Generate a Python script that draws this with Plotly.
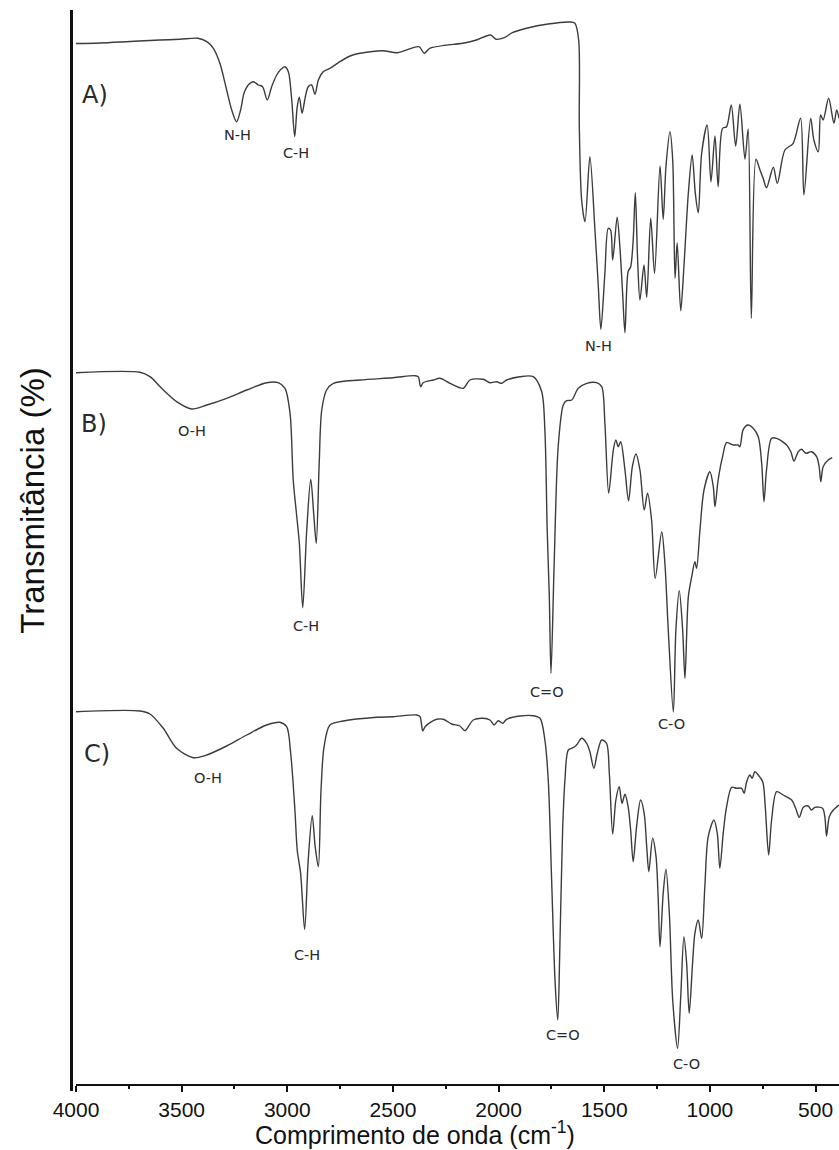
import plotly.graph_objects as go

# FTIR spectra: wavenumber (cm-1) and relative transmittance (a.u.) per sample
wn_a = [4000, 3886, 3744, 3602, 3508, 3423, 3381, 3350, 3319, 3287, 3263, 3240, 3221, 3205,
        3185, 3161, 3137, 3117, 3095, 3074, 3050, 3030, 3011, 2995, 2979, 2965, 2953, 2943,
        2930, 2916, 2901, 2885, 2869, 2853, 2830, 2798, 2751, 2703, 2656, 2547, 2479, 2377,
        2352, 2326, 2156, 2105, 2038, 2012, 1970, 1935, 1868, 1766, 1664, 1639, 1621, 1618,
        1607, 1591, 1568, 1544, 1528, 1516, 1497, 1481, 1470, 1460, 1439, 1426, 1413, 1402,
        1387, 1375, 1363, 1353, 1342, 1331, 1312, 1299, 1280, 1262, 1236, 1221, 1208, 1189,
        1176, 1165, 1155, 1138, 1123, 1102, 1084, 1069, 1055, 1039, 1013, 995, 976, 961, 940,
        921, 899, 878, 858, 834, 819, 804, 782, 763, 748, 732, 700, 681, 645, 606, 571, 555,
        523, 508, 487, 476, 464, 438, 413, 400, 389]
tr_a = [39.05, 39.1, 39.25, 39.4, 39.47, 39.57, 39.23, 38.57, 37.07, 34.4, 32.4, 31.23, 32.4,
        34.07, 34.9, 35.23, 34.9, 34.73, 33.4, 34.73, 35.9, 36.47, 36.73, 36.23, 33.4, 29.73,
        32.73, 33.67, 32.07, 33.57, 34.73, 34.9, 33.97, 35.4, 36.23, 36.57, 37.23, 37.8, 38.07,
        38.33, 38.13, 38.73, 38.07, 38.57, 39.13, 39.4, 39.9, 39.47, 39.67, 40.13, 40.57, 41.0,
        41.2, 41.07, 39.4, 30.73, 23.4, 21.23, 27.73, 20.4, 14.73, 10.47, 16.07, 20.57, 20.4,
        17.4, 21.67, 18.73, 14.07, 10.13, 16.23, 16.73, 19.4, 24.13, 17.4, 13.4, 16.9, 13.67,
        21.57, 16.07, 26.8, 21.47, 26.73, 30.23, 27.4, 15.57, 19.13, 12.33, 16.73, 24.07, 27.9,
        24.07, 22.13, 28.07, 30.9, 25.23, 29.8, 24.73, 30.57, 30.73, 32.9, 28.8, 32.97, 27.5,
        30.5, 11.57, 27.47, 26.4, 25.57, 24.63, 26.67, 25.07, 28.4, 29.07, 31.57, 23.9, 31.57,
        29.4, 28.23, 31.9, 31.4, 33.57, 31.07, 32.4, 31.57]

wn_b = [4000, 3697, 3650, 3587, 3524, 3453, 3381, 3287, 3192, 3098, 3043, 3011, 2987, 2972,
        2956, 2943, 2927, 2908, 2889, 2874, 2863, 2849, 2837, 2814, 2782, 2656, 2499, 2396,
        2380, 2369, 2357, 2309, 2278, 2230, 2167, 2136, 2073, 2041, 2009, 1986, 1962, 1899,
        1836, 1796, 1781, 1770, 1760, 1752, 1737, 1718, 1694, 1678, 1654, 1623, 1583, 1536,
        1512, 1497, 1479, 1457, 1445, 1434, 1422, 1402, 1385, 1367, 1350, 1331, 1311, 1295,
        1276, 1259, 1228, 1213, 1197, 1173, 1161, 1145, 1129, 1118, 1102, 1086, 1071, 1063,
        1047, 1028, 1000, 984, 976, 961, 940, 921, 890, 866, 858, 842, 819, 795, 771, 755, 744,
        732, 708, 684, 637, 617, 602, 582, 566, 546, 519, 495, 483, 475, 464, 440, 421]
tr_b = [36.13, 36.17, 35.73, 34.4, 33.23, 32.5, 32.9, 33.57, 34.4, 35.13, 35.13, 34.57, 32.07,
        25.4, 21.9, 19.07, 12.63, 20.4, 25.47, 21.73, 19.07, 27.07, 32.4, 34.4, 35.07, 35.4,
        35.63, 35.83, 35.73, 34.73, 35.13, 35.4, 35.57, 35.07, 34.57, 35.4, 35.47, 35.13, 35.23,
        35.07, 35.4, 35.73, 35.73, 34.23, 30.4, 20.4, 13.73, 6.07, 17.07, 28.73, 32.9, 33.33,
        33.4, 34.57, 35.07, 35.13, 34.73, 31.07, 24.07, 28.4, 29.4, 28.73, 29.23, 26.4, 23.33,
        26.73, 28.0, 26.4, 22.4, 24.07, 21.4, 15.57, 20.23, 17.07, 10.4, 2.2, 10.4, 14.33, 10.4,
        5.57, 13.73, 15.73, 17.23, 16.57, 20.4, 24.4, 26.23, 24.73, 22.73, 25.4, 27.73, 29.13,
        28.9, 28.9, 28.73, 30.47, 30.9, 30.57, 29.73, 27.07, 23.23, 26.4, 29.57, 29.57, 28.9,
        28.23, 27.3, 28.23, 28.47, 28.07, 28.23, 27.73, 26.73, 25.23, 26.73, 27.4, 27.63]

wn_c = [4000, 3697, 3650, 3587, 3524, 3445, 3390, 3287, 3192, 3098, 3035, 3003, 2984, 2964,
        2953, 2937, 2918, 2901, 2882, 2868, 2853, 2841, 2826, 2798, 2735, 2577, 2499, 2388,
        2372, 2359, 2348, 2325, 2293, 2262, 2222, 2183, 2159, 2120, 2073, 2041, 2021, 2002,
        1981, 1962, 1899, 1836, 1804, 1781, 1765, 1749, 1733, 1720, 1710, 1697, 1686, 1670,
        1647, 1631, 1607, 1583, 1568, 1549, 1533, 1512, 1489, 1476, 1460, 1445, 1429, 1416,
        1402, 1387, 1375, 1363, 1347, 1328, 1311, 1299, 1289, 1271, 1255, 1245, 1236, 1221,
        1208, 1192, 1176, 1153, 1138, 1123, 1110, 1098, 1082, 1071, 1055, 1039, 1024, 1008,
        981, 965, 953, 937, 921, 897, 874, 850, 838, 826, 811, 800, 787, 771, 750, 738, 722,
        708, 684, 653, 613, 594, 577, 558, 535, 519, 503, 467, 456, 448, 435, 416, 389]
tr_c = [37.23, 37.3, 37.0, 35.57, 33.57, 32.63, 32.83, 33.8, 34.9, 35.9, 36.17, 35.73, 33.07,
        27.4, 23.4, 21.07, 15.47, 22.4, 26.83, 23.73, 21.73, 29.07, 33.73, 35.9, 36.3, 36.67,
        36.73, 36.9, 36.73, 35.3, 35.73, 36.13, 36.47, 36.47, 36.0, 35.8, 35.33, 36.4, 36.57,
        36.4, 35.9, 36.33, 36.07, 36.47, 36.8, 36.83, 36.57, 34.4, 30.4, 20.4, 10.4, 6.4, 13.73,
        25.4, 30.4, 33.4, 33.63, 33.9, 34.57, 34.07, 33.23, 31.57, 33.07, 34.4, 34.07, 31.07,
        25.0, 28.4, 29.73, 28.07, 28.97, 27.73, 25.4, 22.23, 25.73, 28.4, 27.07, 23.73, 21.23,
        24.57, 22.73, 18.73, 13.73, 19.07, 21.47, 17.07, 8.4, 3.57, 8.73, 14.73, 12.07, 7.07,
        12.07, 15.07, 16.4, 14.57, 19.73, 24.73, 26.4, 25.07, 21.57, 25.07, 27.73, 29.67, 29.57,
        29.57, 29.07, 30.23, 30.9, 30.57, 31.23, 30.9, 30.23, 27.73, 22.9, 26.4, 29.23, 28.9,
        28.4, 27.57, 26.67, 27.67, 27.8, 27.4, 27.67, 27.57, 26.73, 24.8, 26.73, 27.4, 27.9]

# vertical stacking of the three spectra
spectra = [("A", wn_a, tr_a, 65.0), ("B", wn_b, tr_b, 35.0), ("C", wn_c, tr_c, 0.0)]

# sample tags and band assignments (wavenumber, stacked height, text)
sample_tags = [(3910, 98.9, "A)"), (3915, 66.0, "B)"), (3901, 33.05, "C)")]
band_labels = [
    (3238, 94.9, "N-H"), (2959, 93.15, "C-H"), (1525, 73.8, "N-H"),
    (3453, 65.35, "O-H"), (2912, 45.8, "C-H"), (1769, 39.2, "C=O"), (1182, 36.0, "C-O"),
    (3375, 30.65, "O-H"), (2909, 12.9, "C-H"), (1693, 4.9, "C=O"), (1109, 2.0, "C-O"),
]

x_ticks = [4000, 3500, 3000, 2500, 2000, 1500, 1000, 500]

fig = go.Figure()
for name, wn, tr, off in spectra:
    fig.add_trace(go.Scatter(
        x=wn, y=[v + off for v in tr], mode="lines", name=name,
        line=dict(color="#3c3c3c", width=1.4, shape="spline", smoothing=0.85),
        showlegend=False, hoverinfo="skip"))

label_font = dict(family="DejaVu Sans, Open Sans, sans-serif", color="#2a2a2a")
annotations = []
for x, y, t in sample_tags:
    annotations.append(dict(x=x, y=y, text=t, showarrow=False, xref="x", yref="y",
                            font=dict(size=24, **label_font)))
for x, y, t in band_labels:
    annotations.append(dict(x=x, y=y, text=t, showarrow=False, xref="x", yref="y",
                            font=dict(size=14.5, **label_font)))

# axis titles
annotations.append(dict(x=0.444, y=-0.0455, xref="paper", yref="paper",
                        text="Comprimento de onda (cm<sup>-1</sup>)", showarrow=False,
                        xanchor="center", yanchor="middle",
                        font=dict(family="Liberation Sans, Arial, sans-serif", size=25,
                                  color="#111111")))
annotations.append(dict(x=-0.0564, y=0.544, xref="paper", yref="paper",
                        text="Transmitância (%)", showarrow=False, textangle=-90,
                        xanchor="center", yanchor="middle",
                        font=dict(family="Liberation Sans, Arial, sans-serif", size=33,
                                  color="#111111")))

fig.update_layout(
    width=839, height=1150, autosize=False,
    margin=dict(l=76, r=0, t=10, b=66),
    paper_bgcolor="white", plot_bgcolor="white",
    annotations=annotations,
    shapes=[dict(type="line", xref="paper", yref="paper",
                 x0=-0.0059, x1=-0.0059, y0=-0.0065, y1=1.0,
                 line=dict(color="#111111", width=3))],
    xaxis=dict(range=[4000, 389], tickvals=x_ticks, ticks="outside", ticklen=6,
               tickwidth=1.5, tickcolor="#111111", showline=True, linecolor="#111111",
               linewidth=2, showgrid=False, zeroline=False,
               minor=dict(ticks="outside", ticklen=3, tickwidth=1.5, tickcolor="#111111",
                          dtick=250, tick0=0, showgrid=False),
               tickfont=dict(family="Liberation Sans, Arial, sans-serif", size=21,
                             color="#111111")),
    yaxis=dict(range=[0, 107.4], visible=False, showgrid=False, zeroline=False),
)

fig.write_html("out.html")
